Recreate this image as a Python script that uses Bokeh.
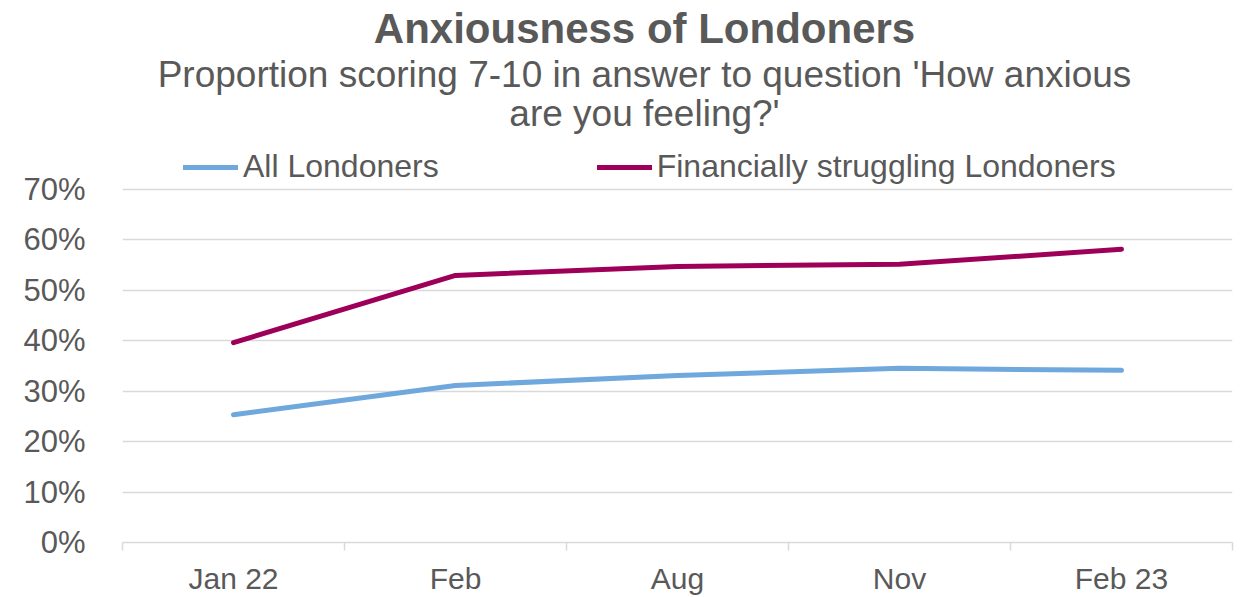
from bokeh.plotting import figure
from bokeh.models import Range1d, FixedTicker, Label, Legend, LegendItem, NumeralTickFormatter
from bokeh.embed import file_html
from bokeh.resources import INLINE

categories = ["Jan 22", "Feb", "Aug", "Nov", "Feb 23"]
all_londoners = [0.253, 0.311, 0.331, 0.345, 0.341]
struggling = [0.396, 0.529, 0.547, 0.551, 0.581]
y_ticks = [0.0, 0.1, 0.2, 0.3, 0.4, 0.5, 0.6, 0.7]

title = "Anxiousness of Londoners"
subtitle_lines = ["Proportion scoring 7-10 in answer to question 'How anxious", "are you feeling?'"]
series_names = ["All Londoners", "Financially struggling Londoners"]

TEXT = "#595959"
GRID = "#d9d9d9"
BLUE = "#6fa8dc"
PURPLE = "#9e0059"
FONT = "Liberation Sans"

W, H = 1242, 597
FL, FR, FB = 122, 1232, 543   # frame left/right/bottom in pixels
Y70 = 189                     # pixel row of the 70% gridline
YMAX = 0.7 * FB / (FB - Y70)  # frame extends to the top of the canvas

xs = [i + 0.5 for i in range(len(categories))]

p = figure(width=W, height=H, x_range=Range1d(0, len(categories)), y_range=Range1d(0, YMAX),
           output_backend="svg", toolbar_location=None,
           min_border_left=FL, min_border_right=W - FR, min_border_top=0, min_border_bottom=H - FB)
p.outline_line_color = None
p.background_fill_color = "white"
p.border_fill_color = "white"

# axes
p.xaxis.ticker = FixedTicker(ticks=xs, minor_ticks=list(range(len(categories) + 1)))
p.xaxis.major_label_overrides = {x: c for x, c in zip(xs, categories)}
p.xaxis.axis_line_color = GRID
p.xaxis.axis_line_width = 1.5
p.xaxis.major_tick_out = 0
p.xaxis.major_tick_in = 0
p.xaxis.minor_tick_out = 8
p.xaxis.minor_tick_in = 0
p.xaxis.minor_tick_line_color = GRID
p.xaxis.minor_tick_line_width = 1.5
p.xaxis.major_label_standoff = 11
p.xaxis.major_label_text_font_size = "30px"
p.xaxis.major_label_text_color = TEXT
p.xaxis.major_label_text_font = FONT

p.yaxis.ticker = FixedTicker(ticks=y_ticks)
p.yaxis.formatter = NumeralTickFormatter(format="0%")
p.yaxis.axis_line_color = None
p.yaxis.major_tick_out = 0
p.yaxis.major_tick_in = 0
p.yaxis.minor_tick_line_color = None
p.yaxis.major_label_standoff = 37
p.yaxis.major_label_text_font_size = "31px"
p.yaxis.major_label_text_color = TEXT
p.yaxis.major_label_text_font = FONT

p.xgrid.visible = False
p.ygrid.ticker = FixedTicker(ticks=y_ticks)
p.ygrid.grid_line_color = GRID
p.ygrid.grid_line_width = 1.5

r1 = p.line(xs, all_londoners, line_width=5, color=BLUE, line_cap="round", line_join="round")
r2 = p.line(xs, struggling, line_width=5, color=PURPLE, line_cap="round", line_join="round")

legend = Legend(items=[LegendItem(label=series_names[0], renderers=[r1]),
                       LegendItem(label=series_names[1], renderers=[r2])],
                orientation="horizontal", location=(61, 357), glyph_width=55, glyph_height=30,
                label_standoff=5, spacing=158, padding=0, margin=0,
                border_line_alpha=0, background_fill_alpha=0,
                label_text_font_size="32px", label_text_color=TEXT, label_text_font=FONT)
p.add_layout(legend)


def px_to_y(py):
    return (FB - py) * YMAX / FB


def px_to_x(px):
    return (px - FL) * len(categories) / (FR - FL)


cx = px_to_x(644)
p.add_layout(Label(x=cx, y=px_to_y(28), text=title, text_align="center", text_baseline="alphabetic",
                   text_font_size="42px", text_font_style="bold", text_color=TEXT, text_font=FONT))
for line, base in zip(subtitle_lines, [74, 113]):
    p.add_layout(Label(x=cx, y=px_to_y(base), text=line, text_align="center", text_baseline="alphabetic",
                       text_font_size="37px", text_color=TEXT, text_font=FONT))

open("out.html", "w").write(file_html(p, INLINE))
